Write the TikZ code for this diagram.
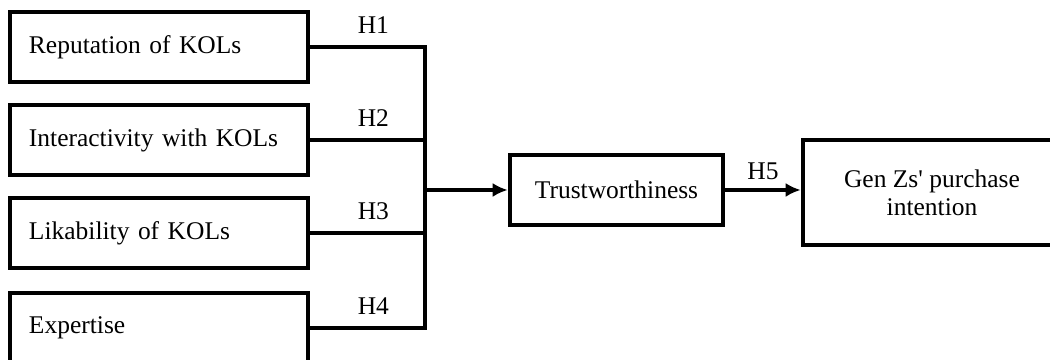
\documentclass[tikz,border=0pt]{standalone}
\usepackage{fontspec}
\setmainfont{Liberation Serif}
\usetikzlibrary{positioning,arrows.meta,calc}

\begin{document}
\begin{tikzpicture}[
    factor/.style={rectangle,draw=black,line width=2.6pt,minimum height=1.4cm,text width=5.2cm,inner xsep=0.38cm,align=left,font=\fontsize{14.5}{15.5}\selectfont},
    mediator/.style={rectangle,draw=black,line width=2.6pt,minimum width=4.26cm,minimum height=1.4cm,font=\fontsize{14.5}{15.5}\selectfont},
    outcome/.style={rectangle,draw=black,line width=2.6pt,minimum width=5.16cm,minimum height=2.1cm,align=center,font=\fontsize{14.5}{16}\selectfont},
    link/.style={line width=1.8pt},
    arrow/.style={-{Latex[length=3mm,width=2.8mm]},line width=1.8pt},
    hyp/.style={font=\fontsize{14.5}{15.5}\selectfont}
]
\useasboundingbox (0,0) rectangle (21,7.2);
\clip (0,0) rectangle (21,7.2);

% Antecedents
\node[factor] (reputation) at (3.18,6.26) {Reputation of KOLs};
\node[factor] (interact) at (3.18,4.4) {Interactivity with KOLs};
\node[factor] (likability) at (3.18,2.54) {Likability of KOLs};
\node[factor] (expertise) at (3.18,0.64) {Expertise};

% Mediator and outcome
\node[mediator] (trust) at (12.33,3.4) {Trustworthiness};
\node[outcome] (intention) at (18.64,3.35) {Gen Zs\textquotesingle{} purchase\\intention};

% Collecting bus
\coordinate (bus) at (8.5,0);
\draw[link] (reputation.east) -- node[hyp,pos=0.55,above=3.5pt] (h1) {H1} (reputation.east -| bus)
    -- (expertise.east -| bus) -- node[hyp,pos=0.45,above=3.5pt] (h4) {H4} (expertise.east);
\draw[link] (interact.east) -- node[hyp,pos=0.55,above=3.5pt] (h2) {H2} (interact.east -| bus);
\draw[link] (likability.east) -- node[hyp,pos=0.55,above=3.5pt] (h3) {H3} (likability.east -| bus);
\draw[arrow] (bus |- trust.west) -- (trust.west);

% Trust to intention
\draw[arrow] (trust.east) -- node[hyp,above=1.5pt] (h5) {H5} (trust.east -| intention.west);

\end{tikzpicture}
\end{document}
